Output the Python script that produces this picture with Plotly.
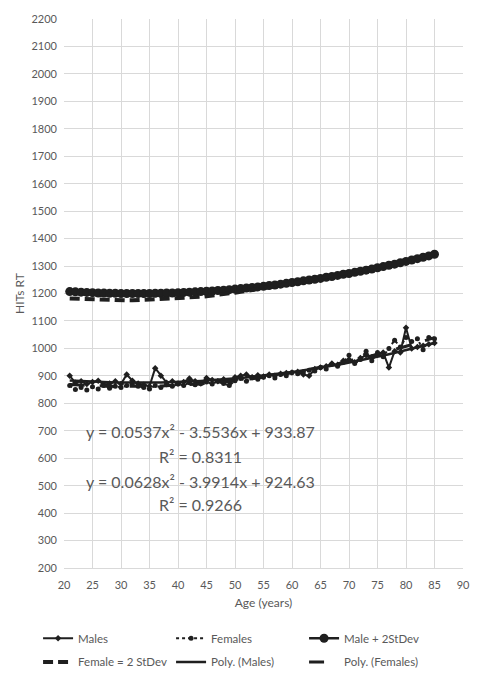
import plotly.graph_objects as go

ages = list(range(21, 86))

males = [900, 875, 880, 870, 878, 882, 868, 872, 880, 870,
         905, 882, 872, 868, 862, 928, 900, 875, 880, 872,
         878, 890, 880, 872, 892, 885, 880, 888, 878, 895,
         900, 905, 895, 902, 898, 905, 900, 908, 910, 912,
         915, 905, 900, 925, 930, 935, 945, 940, 955, 960,
         950, 965, 975, 968, 980, 985, 930, 990, 985, 1075,
         1000, 1005, 1010, 1015, 1020]

females = [865, 850, 858, 848, 860, 852, 865, 855, 862, 858,
           865, 870, 862, 858, 852, 865, 858, 868, 862, 870,
           865, 875, 868, 872, 878, 870, 880, 872, 865, 882,
           890, 880, 895, 888, 895, 900, 892, 905, 900, 912,
           908, 915, 920, 918, 930, 925, 942, 935, 950, 975,
           945, 960, 990, 955, 985, 970, 1000, 1030, 1005, 1040,
           1025, 1035, 995, 1040, 1035]

male_2sd = [1207, 1206, 1205, 1204, 1203, 1202, 1202, 1201, 1201, 1200,
            1200, 1200, 1200, 1200, 1200, 1201, 1201, 1202, 1202, 1203,
            1204, 1205, 1206, 1207, 1208, 1209, 1211, 1212, 1214, 1216,
            1218, 1220, 1222, 1224, 1226, 1229, 1231, 1234, 1237, 1240,
            1243, 1246, 1249, 1252, 1255, 1259, 1262, 1266, 1270, 1273,
            1277, 1281, 1285, 1289, 1294, 1298, 1303, 1307, 1312, 1317,
            1322, 1327, 1332, 1337, 1343]

female_2sd = [1182, 1181, 1180, 1179, 1178, 1177, 1177, 1176, 1176, 1175,
              1175, 1175, 1176, 1176, 1177, 1177, 1178, 1179, 1180, 1181,
              1183, 1184, 1186, 1188, 1190, 1192, 1195, 1197, 1200, 1203,
              1206, 1209, 1212, 1215, 1219, 1222, 1226, 1229, 1233, 1237,
              1241, 1245, 1249, 1253, 1257, 1261, 1265, 1269, 1273, 1277,
              1281, 1285, 1289, 1293, 1297, 1301, 1305, 1309, 1314, 1318,
              1323, 1328, 1333, 1338, 1343]

# trendline coefficients as printed on the chart (a, b, c)
poly_males = [0.0537, -3.5536, 933.87]
poly_females = [0.0628, -3.9914, 924.63]
r2_males = 0.8311
r2_females = 0.9266

x_ticks = list(range(20, 91, 5))
y_ticks = list(range(200, 2201, 100))

def poly_eval(c, xs):
    return [c[0] * x * x + c[1] * x + c[2] for x in xs]

INK = "#1f1f1f"
GREY = "#595959"
FONT = "Lato, 'Open Sans', sans-serif"

fig = go.Figure()
fig.add_trace(go.Scatter(x=ages, y=males, name="Males", mode="lines+markers",
                         line=dict(color=INK, width=2), legend="legend",
                         marker=dict(symbol="diamond", size=5, color=INK)))
fig.add_trace(go.Scatter(x=ages, y=females, name="Females", mode="lines+markers",
                         line=dict(color=INK, width=2, dash="dot"), legend="legend",
                         marker=dict(symbol="circle", size=5, color=INK)))
fig.add_trace(go.Scatter(x=ages, y=male_2sd, name="Male + 2StDev", mode="lines+markers",
                         line=dict(color=INK, width=2.5), legend="legend",
                         marker=dict(symbol="circle", size=9, color=INK)))
fig.add_trace(go.Scatter(x=ages, y=female_2sd, name="Female = 2 StDev", mode="lines",
                         line=dict(color=INK, width=4, dash="10px,5px"), legend="legend2"))
fig.add_trace(go.Scatter(x=ages, y=poly_eval(poly_males, ages), name="Poly. (Males)",
                         mode="lines", line=dict(color=INK, width=2.5), legend="legend2"))
fig.add_trace(go.Scatter(x=ages, y=poly_eval(poly_females, ages), name="Poly. (Females)",
                         mode="lines", line=dict(color=INK, width=3, dash="longdash"),
                         legend="legend2"))

def eq_text(c):
    return f"y = {c[0]}x² - {abs(c[1])}x + {c[2]}"

ann_x = 44
lines = [(eq_text(poly_males), 697), (f"R² = {r2_males}", 608),
         (eq_text(poly_females), 514), (f"R² = {r2_females}", 430)]
annotations = [dict(x=ann_x, y=yv, text=t, showarrow=False, xref="x", yref="y",
                    font=dict(family=FONT, size=16, color=GREY), xanchor="center")
               for t, yv in lines]

leg_common = dict(orientation="h", xanchor="left", yanchor="middle",
                  entrywidth=88, entrywidthmode="pixels", bgcolor="rgba(0,0,0,0)",
                  font=dict(family=FONT, size=11.5, color=GREY))

fig.update_layout(
    width=478, height=684,
    margin=dict(l=64, r=8, t=19, b=104),
    paper_bgcolor="white", plot_bgcolor="white",
    font=dict(family=FONT, size=11, color=GREY),
    showlegend=True,
    legend=dict(x=-0.065, y=-0.128, **leg_common),
    legend2=dict(x=-0.065, y=-0.171, **leg_common),
    annotations=annotations,
    xaxis=dict(range=[20, 90], tickvals=x_ticks, showgrid=True, gridcolor="#d9d9d9",
               gridwidth=1, zeroline=False, showline=True, linecolor="#d9d9d9",
               ticks="", ticklabelstandoff=7, tickfont=dict(size=11, color=GREY),
               title=dict(text="Age (years)", font=dict(size=12, color=GREY), standoff=8)),
    yaxis=dict(range=[200, 2200], tickvals=y_ticks, showgrid=True, gridcolor="#d9d9d9",
               gridwidth=1, zeroline=False, showline=False, ticks="", ticklabelstandoff=6,
               tickfont=dict(size=11, color=GREY),
               title=dict(text="HITs RT", font=dict(size=12, color=GREY), standoff=4)),
)

fig.write_html("out.html", config={"displayModeBar": False},
               post_script="document.body.style.margin='0';document.body.style.overflow='hidden';")
